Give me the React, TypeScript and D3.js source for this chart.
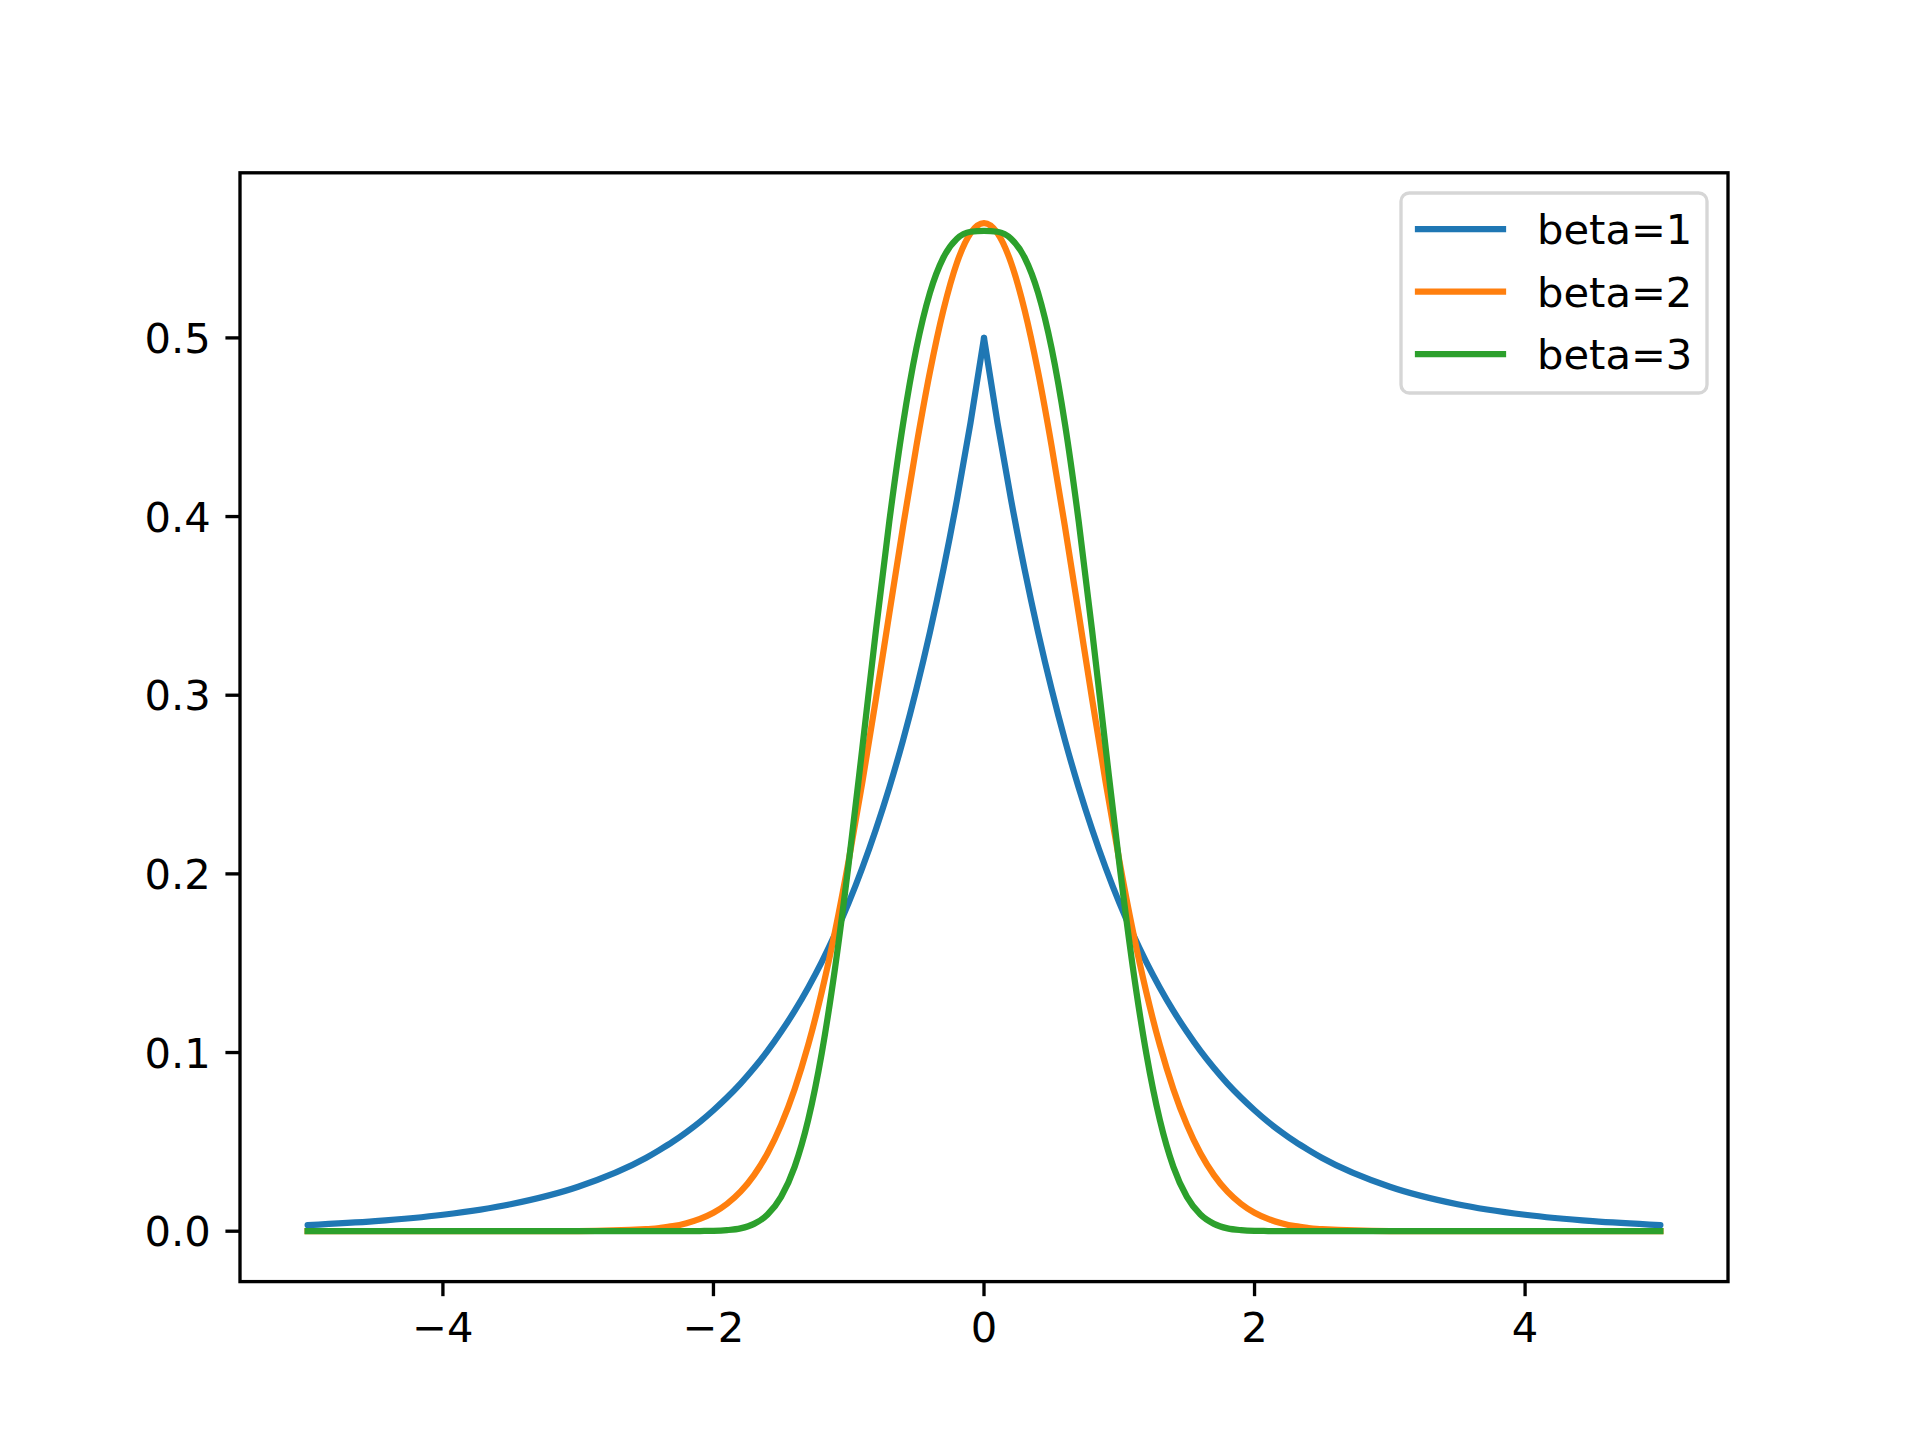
import React from "react";
import * as d3 from "d3";

const xValues = [
  -5, -4.5, -4, -3.5, -3, -2.5, -2.4, -2.3, -2.2, -2.1, -2.0, -1.9, -1.8, -1.7, -1.6, -1.5, -1.4, -1.3, -1.2, -1.1,
  -1.0, -0.9, -0.8, -0.7, -0.6, -0.5, -0.4, -0.3, -0.2, -0.1, 0,
  0.1, 0.2, 0.3, 0.4, 0.5, 0.6, 0.7, 0.8, 0.9, 1.0, 1.1, 1.2, 1.3, 1.4, 1.5, 1.6, 1.7, 1.8, 1.9, 2.0,
  2.1, 2.2, 2.3, 2.4, 2.5, 3, 3.5, 4, 4.5, 5,
];

const beta1 = [
  0.0034, 0.0056, 0.0092, 0.0151, 0.0249, 0.041, 0.0454, 0.0501, 0.0554, 0.0612, 0.0677, 0.0748, 0.0826, 0.0913, 0.1009, 0.1116, 0.1233, 0.1363, 0.1506, 0.1664,
  0.1839, 0.2033, 0.2247, 0.2483, 0.2744, 0.3033, 0.3352, 0.3704, 0.4094, 0.4524, 0.5,
  0.4524, 0.4094, 0.3704, 0.3352, 0.3033, 0.2744, 0.2483, 0.2247, 0.2033, 0.1839, 0.1664, 0.1506, 0.1363, 0.1233, 0.1116, 0.1009, 0.0913, 0.0826, 0.0748, 0.0677,
  0.0612, 0.0554, 0.0501, 0.0454, 0.041, 0.0249, 0.0151, 0.0092, 0.0056, 0.0034,
];

const beta2 = [
  0, 0, 0, 0, 0.00007, 0.0011, 0.0018, 0.0028, 0.0045, 0.0069, 0.0103, 0.0153, 0.0221, 0.0314, 0.0436, 0.0595, 0.0795, 0.1041, 0.1337, 0.1682,
  0.2076, 0.251, 0.2975, 0.3457, 0.3936, 0.4394, 0.4808, 0.5156, 0.5421, 0.5586, 0.5642,
  0.5586, 0.5421, 0.5156, 0.4808, 0.4394, 0.3936, 0.3457, 0.2975, 0.251, 0.2076, 0.1682, 0.1337, 0.1041, 0.0795, 0.0595, 0.0436, 0.0314, 0.0221, 0.0153, 0.0103,
  0.0069, 0.0045, 0.0028, 0.0018, 0.0011, 0.00007, 0, 0, 0, 0,
];

const beta3 = [
  0, 0, 0, 0, 0, 0, 0, 0, 0.00001, 0.0001, 0.0002, 0.0006, 0.0016, 0.0041, 0.0093, 0.0192, 0.036, 0.0622, 0.0994, 0.1479,
  0.206, 0.2701, 0.3356, 0.3973, 0.4511, 0.4941, 0.5252, 0.545, 0.5555, 0.5594, 0.5599,
  0.5594, 0.5555, 0.545, 0.5252, 0.4941, 0.4511, 0.3973, 0.3356, 0.2701, 0.206, 0.1479, 0.0994, 0.0622, 0.036, 0.0192, 0.0093, 0.0041, 0.0016, 0.0006, 0.0002,
  0.0001, 0.00001, 0, 0, 0, 0, 0, 0, 0, 0,
];

const seriesLabels = ["beta=1", "beta=2", "beta=3"];
const seriesColors = ["#1f77b4", "#ff7f0e", "#2ca02c"];
const xTicks = [-4, -2, 0, 2, 4];
const yTicks = [0.0, 0.1, 0.2, 0.3, 0.4, 0.5];

const W = 1920;
const H = 1440;
const left = 240;
const right = 1728;
const top = 172.8;
const bottom = 1281.6;
const FONT = "'DejaVu Sans', sans-serif";
const FS = 41.67;

export default function App() {
  const x = d3.scaleLinear().domain([-5.5, 5.5]).range([left, right]);
  const yMax = 0.5642;
  const pad = yMax * 0.05;
  const y = d3.scaleLinear().domain([-pad, yMax + pad]).range([bottom, top]);

  const line = d3
    .line<[number, number]>()
    .x((d) => x(d[0]))
    .y((d) => y(d[1]))
    .curve(d3.curveMonotoneX);

  const all = [beta1, beta2, beta3].map((ys) => xValues.map((xv, i) => [xv, ys[i]] as [number, number]));

  // beta=1 has a cusp at 0: draw as two halves sharing the peak point
  const paths: { d: string; color: string; cap: "round" | "square" }[] = [];
  const b1 = all[0];
  paths.push({ d: line(b1.filter((p) => p[0] <= 0)) || "", color: seriesColors[0], cap: "round" });
  paths.push({ d: line(b1.filter((p) => p[0] >= 0)) || "", color: seriesColors[0], cap: "round" });
  paths.push({ d: line(all[1]) || "", color: seriesColors[1], cap: "square" });
  paths.push({ d: line(all[2]) || "", color: seriesColors[2], cap: "square" });

  const fmtY = (v: number) => v.toFixed(1);
  const fmtX = (v: number) => (v < 0 ? "\u2212" + Math.abs(v) : String(v));

  const tickLen = 14.58;
  const lw = 6.25;

  // legend
  const lgX = 1401;
  const lgY = 193;
  const lgW = 306;
  const lgH = 200;
  const rowYs = [229, 291.5, 354];

  return (
    <svg
      width={W}
      height={H}
      style={{ display: "block", position: "absolute", left: 0, top: 0 }}
      fontFamily={FONT}
    >
      <rect x={0} y={0} width={W} height={H} fill="#ffffff" />
      <defs>
        <clipPath id="clip">
          <rect x={left} y={top} width={right - left} height={bottom - top} />
        </clipPath>
      </defs>
      <g clipPath="url(#clip)">
        {paths.map((p, i) => (
          <path
            key={i}
            d={p.d}
            fill="none"
            stroke={p.color}
            strokeWidth={lw}
            strokeLinecap={p.cap}
            strokeLinejoin="round"
          />
        ))}
      </g>
      {/* axes frame */}
      <rect
        x={left}
        y={top}
        width={right - left}
        height={bottom - top}
        fill="none"
        stroke="#000"
        strokeWidth={3.33}
        strokeLinecap="square"
      />
      {/* x ticks */}
      {xTicks.map((t) => (
        <g key={"x" + t}>
          <line x1={x(t)} x2={x(t)} y1={bottom} y2={bottom + tickLen} stroke="#000" strokeWidth={3.33} />
          <text x={x(t)} y={bottom + tickLen + 14.58 + 31} textAnchor="middle" fontSize={FS} fill="#000">
            {fmtX(t)}
          </text>
        </g>
      ))}
      {/* y ticks */}
      {yTicks.map((t) => (
        <g key={"y" + t}>
          <line x1={left - tickLen} x2={left} y1={y(t)} y2={y(t)} stroke="#000" strokeWidth={3.33} />
          <text
            x={left - tickLen - 14.58}
            y={y(t)}
            dy="0.36em"
            textAnchor="end"
            fontSize={FS}
            fill="#000"
          >
            {fmtY(t)}
          </text>
        </g>
      ))}
      {/* legend */}
      <rect
        x={lgX}
        y={lgY}
        width={lgW}
        height={lgH}
        rx={8.3}
        ry={8.3}
        fill="#ffffff"
        fillOpacity={0.8}
        stroke="#cccccc"
        strokeOpacity={0.8}
        strokeWidth={3.33}
      />
      {seriesLabels.map((lab, i) => (
        <g key={lab}>
          <line
            x1={1418}
            x2={1503}
            y1={rowYs[i]}
            y2={rowYs[i]}
            stroke={seriesColors[i]}
            strokeWidth={lw}
            strokeLinecap="square"
          />
          <text x={1537} y={rowYs[i]} dy="0.36em" fontSize={FS} fill="#000">
            {lab}
          </text>
        </g>
      ))}
    </svg>
  );
}
